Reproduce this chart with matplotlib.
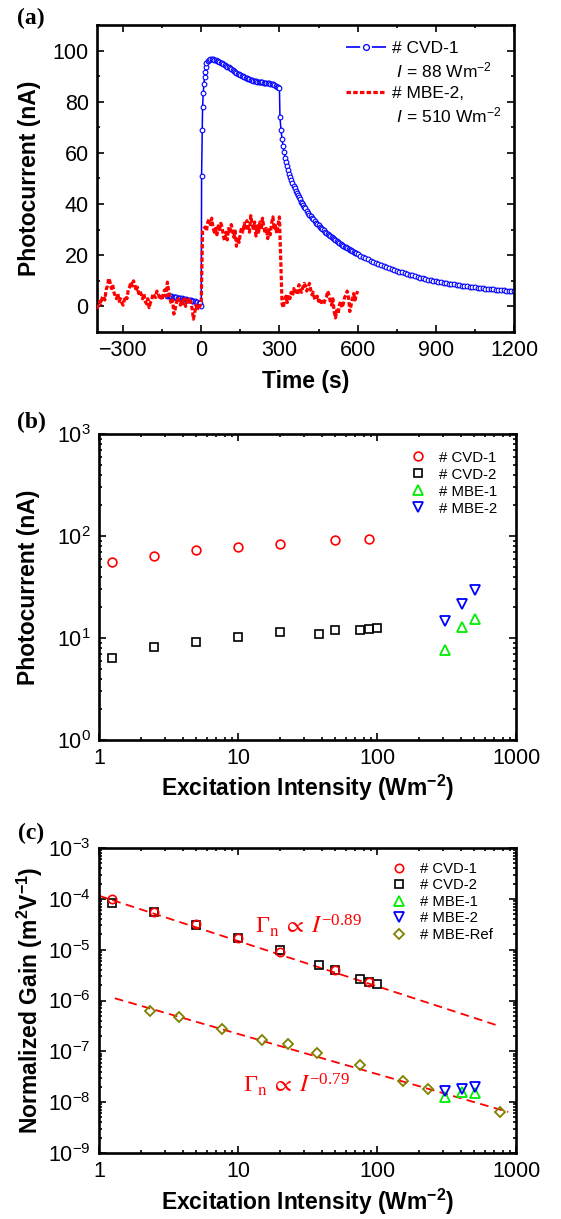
import numpy as np
import matplotlib
matplotlib.use('Agg')
import matplotlib.pyplot as plt
from matplotlib.lines import Line2D
from matplotlib.ticker import MultipleLocator, LogLocator, FuncFormatter, NullFormatter

plt.rcParams['font.family'] = ['Liberation Sans', 'DejaVu Sans']
plt.rcParams['mathtext.fontset'] = 'custom'
plt.rcParams['mathtext.rm'] = 'Liberation Sans'
plt.rcParams['mathtext.it'] = 'Liberation Sans:italic'
plt.rcParams['mathtext.bf'] = 'Liberation Sans:bold'
plt.rcParams['mathtext.default'] = 'regular'

# ---------------- panel (a) data ----------------
# CVD-1 (I = 88 Wm^-2) transient
t_cvd1_pre = np.arange(-130, -4, 5)
i_cvd1_pre = [4.2, 4.1, 4.0, 3.9, 3.8, 3.7, 3.6, 3.5, 3.4, 3.3, 3.2, 3.1, 3.0,
              2.9, 2.8, 2.7, 2.6, 2.5, 2.4, 2.2, 2.1, 2.0, 1.8, 1.7, 1.5, 1.3]
t_cvd1_rise = [0, 1.3, 3.8, 5.1, 7.7, 10, 13, 15, 18, 20, 24, 29, 35]
i_cvd1_rise = [0.3, 51, 69, 78, 83.5, 87, 89.8, 91.7, 93.5, 95.0, 95.9, 96.4, 96.6]
t_cvd1_on = np.arange(40, 301, 5)
i_cvd1_on = [96.6, 96.6, 96.5, 96.3, 96.1, 95.9, 95.6, 95.3, 95.0, 94.7, 94.4, 94.0,
             93.7, 93.4, 93.0, 92.7, 92.4, 92.0, 91.7, 91.4, 91.0, 90.7, 90.4, 90.2,
             89.9, 89.7, 89.4, 89.2, 89.0, 88.8, 88.6, 88.4, 88.2, 88.1, 88.0, 87.9,
             87.8, 87.7, 87.6, 87.6, 87.5, 87.5, 87.4, 87.3, 87.2, 87.1, 87.0, 86.8,
             86.5, 86.2, 85.9, 85.6, 85.2]
t_cvd1_off1 = np.arange(302, 399, 4)
i_cvd1_off1 = [74.0, 69.0, 65.5, 62.6, 60.2, 58.2, 56.4, 54.8, 53.3, 51.9, 50.6, 49.4,
               48.3, 47.2, 46.2, 45.2, 44.3, 43.4, 42.6, 41.8, 41.0, 40.3, 39.6, 38.9,
               38.3]
t_cvd1_off2 = np.arange(405, 601, 5)
i_cvd1_off2 = [37.3, 36.6, 35.9, 35.2, 34.6, 34.0, 33.4, 32.8, 32.2, 31.7, 31.2, 30.7,
               30.2, 29.7, 29.2, 28.7, 28.3, 27.9, 27.5, 27.1, 26.7, 26.3, 25.9, 25.5,
               25.1, 24.8, 24.4, 24.1, 23.8, 23.4, 23.1, 22.8, 22.5, 22.2, 21.9, 21.6,
               21.3, 21.0, 20.7, 20.4]
t_cvd1_off3 = np.arange(610, 1201, 10)
i_cvd1_off3 = [19.9, 19.4, 18.9, 18.4, 17.9, 17.4, 17.0, 16.6, 16.2, 15.8, 15.4, 15.0,
               14.6, 14.3, 13.9, 13.6, 13.3, 13.0, 12.7, 12.4, 12.1, 11.8, 11.5, 11.3,
               11.0, 10.8, 10.5, 10.3, 10.1, 9.9, 9.7, 9.5, 9.3, 9.1, 8.9, 8.8, 8.6,
               8.4, 8.3, 8.1, 8.0, 7.8, 7.7, 7.6, 7.4, 7.3, 7.2, 7.1, 7.0, 6.9, 6.8,
               6.7, 6.6, 6.5, 6.4, 6.3, 6.2, 6.1, 6.0, 5.9]

# MBE-2 (I = 510 Wm^-2) transient
i_mbe2_pre = [-1.0, 0.5, 2.0, 1.0, 3.5, 4.0, 2.5, 6.5, 8.0, 11.0, 9.5, 7.0, 8.5, 5.5,
              4.0, 3.0, 5.0, 2.0, 3.0, 1.5, 0.5, 2.5, 4.0, 3.0, 6.5, 7.5, 9.5, 8.0,
              10.0, 8.5, 6.0, 7.5, 5.0, 6.0, 4.5, 3.0, 5.0, 2.0, 1.0, 3.0, -0.5, 1.5,
              2.5, 5.0, 4.0, 3.5, 6.0, 5.0, 3.5, 4.5, 2.5, 5.5, 6.5, 4.0, 9.5, 6.0,
              3.0, 1.0, 2.5, -3.0, -1.0, 1.5, 3.5, 2.0, 0.5, 2.5, 1.0, 3.0, 0.0, 1.5,
              3.5, 1.0, 2.0, -1.0, -5.0, -2.5, 0.5, -1.5, 1.0, 0.0, 2.0]
i_mbe2_on = [29.5, 30.5, 31.0, 29.5, 33.0, 34.0, 32.0, 34.5, 31.0, 29.0, 30.5, 28.0,
             31.5, 30.0, 32.5, 31.0, 27.5, 25.5, 29.0, 26.0, 30.5, 28.5, 32.0, 30.0,
             27.0, 29.5, 23.5, 27.0, 25.0, 28.5, 31.0, 29.0, 32.5, 30.0, 33.5, 31.0,
             29.0, 35.5, 32.0, 30.5, 33.0, 27.5, 31.5, 29.0, 33.0, 30.0, 34.5, 31.0,
             28.5, 30.5, 26.5, 30.0, 28.0, 32.5, 35.0, 30.0, 31.5, 28.5, 32.0, 35.0]
i_mbe2_off = [18.0, 1.0, -0.5, 2.5, 4.0, 1.5, 4.5, 3.0, 5.5, 4.0, 7.0, 5.0, 6.0, 4.5,
              8.5, 6.5, 5.5, 7.5, 9.0, 8.0, 6.0, 7.5, 9.0, 6.5, 4.5, 5.5, 3.0, 2.5,
              4.0, 2.0, 3.0, 1.5, 2.0, 1.0, 2.5, 3.5, 6.0, 4.5, 2.0, 0.5, 3.0, -2.0,
              -4.5, -1.5, -3.0, 0.5, 2.0, -0.5, 1.0, 3.5, 4.5, 6.0, 3.5, -2.0, 0.5,
              3.0, 5.0, 2.5, 4.5, 6.0]

# ---------------- panel (b) data ----------------
cvd1_I = [1.25, 2.5, 5, 10, 20, 50, 88]
cvd1_pc = [55, 64, 73, 78, 83, 91, 94]
cvd2_I = [1.25, 2.5, 5, 10, 20, 38, 50, 75, 88, 100]
cvd2_pc = [6.3, 8.2, 9.1, 10.3, 11.4, 11.0, 12.1, 12.1, 12.2, 12.5]
mbe_I = [308, 408, 510]
mbe1_pc = [7.6, 12.8, 15.5]
mbe2_pc = [14.7, 21.7, 29.5]

# ---------------- panel (c) data ----------------
cvd1_gain = [9.8e-5, 5.6e-5, 3.2e-5, 1.7e-5, 9.0e-6, 4.0e-6, 2.34e-6]
cvd2_gain = [8.4e-5, 5.5e-5, 3.1e-5, 1.68e-5, 1.0e-5, 4.9e-6, 3.9e-6, 2.65e-6, 2.3e-6, 2.08e-6]
mbe1_gain = [1.28e-8, 1.56e-8, 1.49e-8]
mbe2_gain = [1.68e-8, 1.81e-8, 1.95e-8]
ref_I = [2.33, 3.78, 7.67, 14.9, 22.9, 37.2, 75.5, 155, 232, 767]
ref_gain = [6.2e-7, 4.8e-7, 2.79e-7, 1.67e-7, 1.39e-7, 9.4e-8, 5.3e-8, 2.6e-8, 1.84e-8, 6.3e-9]
fit_amp = [1.15e-4, 1.36e-6]
fit_exp = [-0.89, -0.79]
fit_range = [(1.0, 760), (1.3, 880)]
fit_label = [r'$\Gamma_\mathrm{n}\;\propto\;\mathit{I}^{-0.89}$',
             r'$\Gamma_\mathrm{n}\;\propto\;\mathit{I}^{-0.79}$']

BLUE = '#0000ff'
RED = '#ff0000'
GREEN = '#00ee00'
OLIVE = '#808000'

W, H = 561, 1219
fig = plt.figure(figsize=(W / 100, H / 100), dpi=100)

def px_axes(l, t, r, b):
    return fig.add_axes([l / W, 1 - b / H, (r - l) / W, (b - t) / H])

axa = px_axes(97, 25, 514, 332)
axb = px_axes(99, 434, 516, 740)
axc = px_axes(99, 848, 516, 1153)

TICK_FS = 15.5
LAB_FS = 16.5

def style(ax):
    for s in ax.spines.values():
        s.set_linewidth(1.9)
    ax.tick_params(which='both', direction='in', top=True, right=True, width=1.2,
                   labelsize=TICK_FS)
    ax.tick_params(which='major', length=4.8, pad=6)
    ax.tick_params(which='minor', length=2.4)

# ---- (a)
t_cvd1 = np.concatenate([t_cvd1_pre, t_cvd1_rise, t_cvd1_on, t_cvd1_off1, t_cvd1_off2, t_cvd1_off3])
i_cvd1 = np.concatenate([i_cvd1_pre, i_cvd1_rise, i_cvd1_on, i_cvd1_off1, i_cvd1_off2, i_cvd1_off3])
t_mbe2 = np.concatenate([np.linspace(-400, 0, len(i_mbe2_pre)),
                         np.linspace(5, 300, len(i_mbe2_on)),
                         np.linspace(305, 600, len(i_mbe2_off))])
i_mbe2 = np.concatenate([i_mbe2_pre, i_mbe2_on, i_mbe2_off])

axa.plot(t_cvd1, i_cvd1, color=BLUE, lw=1.1, marker='o', ms=3.4, mfc='white',
         mec=BLUE, mew=0.8, zorder=2)
axa.plot(t_mbe2, i_mbe2, color=RED, lw=2.3, ls=(0, (1.4, 0.7)), zorder=3)
axa.set_xlim(-400, 1200)
axa.set_ylim(-10, 110)
axa.xaxis.set_major_locator(MultipleLocator(300))
axa.xaxis.set_minor_locator(MultipleLocator(150))
axa.yaxis.set_major_locator(MultipleLocator(20))
axa.yaxis.set_minor_locator(MultipleLocator(10))
style(axa)
axa.set_xlabel('Time (s)', fontsize=LAB_FS, fontweight='bold')
axa.set_ylabel('Photocurrent (nA)', fontsize=LAB_FS, fontweight='bold')
axa.xaxis.label.set_va('center')
axa.yaxis.label.set_va('center')
axa.xaxis.set_label_coords(0.5, -0.160)
axa.yaxis.set_label_coords(-0.163, 0.5)

h_cvd = Line2D([], [], color=BLUE, lw=1.2, ls=(0, (8.5, 7.0)), marker='o', ms=4.2,
               mfc='white', mec=BLUE, mew=0.9)
h_mbe = Line2D([], [], color=RED, lw=2.3, ls=(0, (1.4, 0.7)))
h_blank = Line2D([], [], ls='none')
axa.legend([h_cvd, h_blank, h_mbe, h_blank],
           ['# CVD-1', r' $\mathit{I}$ = 88 Wm$^{-2}$', '# MBE-2,', r' $\mathit{I}$ = 510 Wm$^{-2}$'],
           loc='upper left', bbox_to_anchor=(0.597, 0.948), frameon=False,
           fontsize=12.5, handlelength=2.3, handletextpad=0.35, labelspacing=0.28,
           borderpad=0, borderaxespad=0)

# ---- (b)
axb.plot(cvd1_I, cvd1_pc, ls='none', marker='o', ms=6.3, mfc='none', mec=RED, mew=1.2, label='# CVD-1')
axb.plot(cvd2_I, cvd2_pc, ls='none', marker='s', ms=5.5, mfc='none', mec='black', mew=1.2, label='# CVD-2')
axb.plot(mbe_I, mbe1_pc, ls='none', marker='^', ms=7.2, mfc='none', mec=GREEN, mew=1.3, label='# MBE-1')
axb.plot(mbe_I, mbe2_pc, ls='none', marker='v', ms=7.2, mfc='none', mec=BLUE, mew=1.3, label='# MBE-2')
axb.set_xscale('log')
axb.set_yscale('log')
axb.set_xlim(1, 1000)
axb.set_ylim(1, 1000)

# ---- (c)
axc.plot(cvd1_I, cvd1_gain, ls='none', marker='o', ms=6.0, mfc='none', mec=RED, mew=1.2, label='# CVD-1', zorder=4)
axc.plot(cvd2_I, cvd2_gain, ls='none', marker='s', ms=5.3, mfc='none', mec='black', mew=1.2, label='# CVD-2', zorder=3)
axc.plot(mbe_I, mbe1_gain, ls='none', marker='^', ms=7.5, mfc='none', mec=GREEN, mew=1.3, label='# MBE-1', zorder=3)
axc.plot(mbe_I, mbe2_gain, ls='none', marker='v', ms=7.5, mfc='none', mec=BLUE, mew=1.3, label='# MBE-2', zorder=3)
axc.plot(ref_I, ref_gain, ls='none', marker='D', ms=5.2, mfc='none', mec=OLIVE, mew=1.3, label='# MBE-Ref', zorder=3)
for amp, ex, (lo, hi) in zip(fit_amp, fit_exp, fit_range):
    xx = np.logspace(np.log10(lo), np.log10(hi), 60)
    axc.plot(xx, amp * xx ** ex, color=RED, lw=1.3, ls=(0, (4.8, 3.0)), zorder=2)
axc.set_xscale('log')
axc.set_yscale('log')
axc.set_xlim(1, 1000)
axc.set_ylim(1e-9, 1e-3)
axc.text(13.2, 2.1e-5, fit_label[0], color=RED, fontsize=17.5, family='Liberation Serif',
         math_fontfamily='stix', ha='left', va='baseline')
axc.text(10.8, 1.56e-8, fit_label[1], color=RED, fontsize=17.5, family='Liberation Serif',
         math_fontfamily='stix', ha='left', va='baseline')

for ax in (axb, axc):
    ax.xaxis.set_major_locator(LogLocator(base=10, numticks=10))
    ax.xaxis.set_minor_locator(LogLocator(base=10, subs=np.arange(2, 10), numticks=100))
    ax.yaxis.set_major_locator(LogLocator(base=10, numticks=10))
    ax.yaxis.set_minor_locator(LogLocator(base=10, subs=np.arange(2, 10), numticks=100))
    ax.xaxis.set_major_formatter(FuncFormatter(lambda v, p: '%d' % round(v)))
    ax.xaxis.set_minor_formatter(NullFormatter())
    ax.yaxis.set_minor_formatter(NullFormatter())
    style(ax)
    ax.set_xlabel('Excitation Intensity (Wm$^{-2}$)', fontsize=LAB_FS, fontweight='bold')
    ax.xaxis.label.set_va('center')
    ax.yaxis.label.set_va('center')

axb.set_ylabel('Photocurrent (nA)', fontsize=LAB_FS, fontweight='bold')
axc.set_ylabel('Normalized Gain (m$^{2}$V$^{-1}$)', fontsize=LAB_FS, fontweight='bold')
axb.xaxis.set_label_coords(0.5, -0.157)
axb.yaxis.set_label_coords(-0.170, 0.5)
axc.xaxis.set_label_coords(0.5, -0.161)
axc.yaxis.set_label_coords(-0.166, 0.5)

axb.legend(loc='upper left', bbox_to_anchor=(0.746, 0.946), frameon=False, fontsize=10.8,
           handlelength=1.0, handletextpad=0.9, labelspacing=0.2, borderpad=0,
           borderaxespad=0, numpoints=1)
axc.legend(loc='upper left', bbox_to_anchor=(0.702, 0.955), frameon=False, fontsize=10.7,
           handlelength=1.0, handletextpad=0.9, labelspacing=0.17, borderpad=0,
           borderaxespad=0, numpoints=1)

for lab, yc in (('(a)', 18), ('(b)', 422), ('(c)', 833)):
    fig.text(31 / W, 1 - yc / H, lab, fontsize=17, fontweight='bold', family='Liberation Serif',
             ha='center', va='center')

fig.savefig('out.png', dpi=100)
